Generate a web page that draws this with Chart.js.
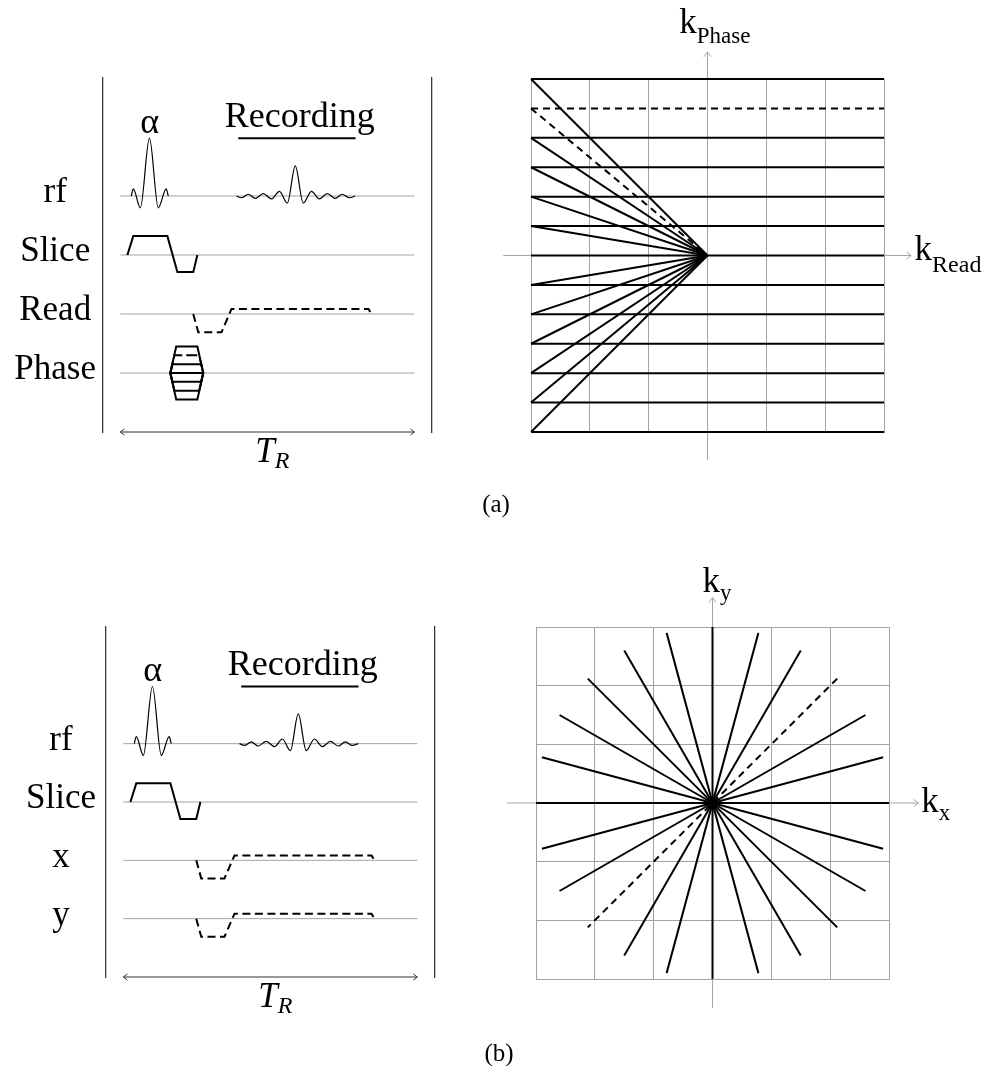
<!DOCTYPE html>
<html>
<head>
<meta charset="utf-8">
<script src="https://cdn.jsdelivr.net/npm/chart.js@4.4.1/dist/chart.umd.min.js"></script>
<style>
  body { margin: 0; background: #fff; }
  #wrap { position: relative; width: 986px; height: 1066px; overflow: hidden; }
  #wrap canvas { position: absolute; left: 0; top: 0; }
  .cap { position: absolute; left: 0; text-align: center; font: 25px "Liberation Serif", serif; line-height: 25px; }
</style>
</head>
<body>
<div id="wrap">
  <canvas id="seqA" width="986" height="1066"></canvas>
  <canvas id="kA" width="986" height="1066"></canvas>
  <canvas id="seqB" width="986" height="1066"></canvas>
  <canvas id="kB" width="986" height="1066"></canvas>
  <div class="cap" style="top:491px;width:992px">(a)</div>
  <div class="cap" style="top:1040px;width:998px">(b)</div>
</div>
<script>
const SERIF = '"Liberation Serif", "DejaVu Serif", serif';
const INK = '#000';
const GREY = '#a3a3a3';

// --- pulse sequence: time in ms, amplitude in units of the row spacing ---
const TR = [0, 10];
const rowsA = ['rf', 'Slice', 'Read', 'Phase'];
const rowsB = ['rf', 'Slice', 'x', 'y'];

const alphaT = [0.37, 0.44, 0.68, 0.99, 1.29, 1.56, 1.63];
const alphaA = [0, 0.12, -0.2, 0.98, -0.2, 0.12, 0];

const echoT = [3.95, 4.12, 4.35, 4.59, 4.86, 5.14, 5.41, 5.68, 5.95, 6.22, 6.50, 6.77, 7.04, 7.31, 7.55, 7.79, 7.99];
const echoA = [0, -0.03, 0.03, -0.04, 0.04, -0.05, 0.08, -0.12, 0.51, -0.12, 0.08, -0.05, 0.04, -0.04, 0.03, -0.03, 0];
const recordWin = [4.01, 8.0];

const sliceT = [0.24, 0.44, 1.6, 1.94, 2.48, 2.62];
const sliceA = [0, 0.32, 0.32, -0.29, -0.29, 0];

const readT = [2.48, 2.65, 3.44, 3.78, 8.44, 8.54];
const readA = [0, -0.31, -0.31, 0.085, 0.085, 0];

const phaseAmp = [0.45, 0.30, 0.15, 0, -0.15, -0.30, -0.45];
const phaseRamp = [0.2, 0.14, 0.07, 0, 0.07, 0.14, 0.2];
const phaseOn = [1.70, 2.82];

// --- k-space, in grid cells ---
const kRows = [3, 2.5, 2, 1.5, 1, 0.5, 0, -0.5, -1, -1.5, -2, -2.5, -3];
const kRowDashed = 2.5;
const spokeX = [0, 0.78, 1.5, 2.12, 2.6, 2.9, 3, 2.9, 2.6, 2.12, 1.5, 0.78];
const spokeY = [3, 2.9, 2.6, 2.12, 1.5, 0.78, 0, -0.78, -1.5, -2.12, -2.6, -2.9];
const spokeDashed = 3;

const pts = (ts, as, base = 0) => ts.map((t, i) => ({ x: t, y: base + as[i] }));
const seg = (x0, y0, x1, y1) => [{ x: x0, y: y0 }, { x: x1, y: y1 }];
const line = (data, extra = {}) => Object.assign(
  { data, borderColor: INK, borderWidth: 2, pointRadius: 0, fill: false, tension: 0, clip: false, order: 0 }, extra);
// grey guide lines sit behind the black marks
const guide = (data, extra = {}) => line(data, Object.assign({ borderColor: GREY, borderWidth: 1, order: 5 }, extra));

// text placed in data coordinates
const notes = items => ({
  id: 'notes',
  afterDatasetsDraw(chart) {
    const { ctx } = chart, sx = chart.scales.x, sy = chart.scales.y;
    ctx.save();
    ctx.fillStyle = INK;
    ctx.textBaseline = 'alphabetic';
    ctx.textAlign = 'left';
    items.forEach(n => {
      const st = n.italic ? 'italic ' : '';
      const big = `${st}${n.size}px ${SERIF}`, small = `${st}${n.subSize || 10}px ${SERIF}`;
      ctx.font = big;
      const w1 = ctx.measureText(n.text).width;
      let w2 = 0;
      if (n.sub) { ctx.font = small; w2 = ctx.measureText(n.sub).width; }
      let px = sx.getPixelForValue(n.x);
      const py = sy.getPixelForValue(n.y);
      if (n.align === 'center') px -= (w1 + w2) / 2;
      ctx.font = big;
      ctx.fillText(n.text, px, py);
      if (n.sub) { ctx.font = small; ctx.fillText(n.sub, px + w1, py + n.subDrop); }
    });
    ctx.restore();
  }
});

// open arrow heads on datasets that ask for them
const arrowPlugin = {
  id: 'arrows',
  afterDatasetsDraw(chart) {
    const ctx = chart.ctx;
    chart.data.datasets.forEach((ds, i) => {
      if (!ds.arrows) return;
      const p = chart.getDatasetMeta(i).data;
      const head = (tip, from) => {
        const a = Math.atan2(tip.y - from.y, tip.x - from.x), L = ds.arrowSize || 6, s = 0.65;
        ctx.beginPath();
        ctx.moveTo(tip.x - L * Math.cos(a - s), tip.y - L * Math.sin(a - s));
        ctx.lineTo(tip.x, tip.y);
        ctx.lineTo(tip.x - L * Math.cos(a + s), tip.y - L * Math.sin(a + s));
        ctx.stroke();
      };
      ctx.save();
      ctx.strokeStyle = ds.borderColor;
      ctx.lineWidth = ds.borderWidth;
      if (ds.arrows.includes('end')) head(p[p.length - 1], p[p.length - 2]);
      if (ds.arrows.includes('start')) head(p[0], p[1]);
      ctx.restore();
    });
  }
};

const seqNotes = [
  { x: 1.0, y: 4.07, text: 'α', size: 36, align: 'center' },
  { x: 6.1, y: 4.17, text: 'Recording', size: 36, align: 'center' },
  { x: 4.59, y: -1.51, text: 'T', sub: 'R', size: 35, subSize: 24, subDrop: 6, italic: true }
];

function seqDatasets(names) {
  const ds = names.map((n, i) => guide(seg(TR[0], 3 - i, TR[1], 3 - i)));
  ds.push(line(pts(alphaT, alphaA, 3), { borderWidth: 1.2, cubicInterpolationMode: 'monotone' }));
  ds.push(line(pts(echoT, echoA, 3), { borderWidth: 1.2, cubicInterpolationMode: 'monotone' }));
  ds.push(line(seg(recordWin[0], 3.98, recordWin[1], 3.98)));
  ds.push(line(pts(sliceT, sliceA, 2)));
  ds.push(line(seg(TR[0], -1, TR[1], -1), { borderColor: '#333', borderWidth: 1, arrows: ['start', 'end'], arrowSize: 5 }));
  return ds;
}

const readout = row => line(pts(readT, readA, row), { borderDash: [8, 4.5] });
const phaseStep = i => line([
  { x: phaseOn[0], y: 0 },
  { x: phaseOn[0] + phaseRamp[i], y: phaseAmp[i] },
  { x: phaseOn[1] - phaseRamp[i], y: phaseAmp[i] },
  { x: phaseOn[1], y: 0 }
], i === 1 ? { borderDash: [11, 4], order: 1 } : {});

function seqChart(id, names, grads, o) {
  new Chart(document.getElementById(id), {
    type: 'line',
    data: { datasets: [...seqDatasets(names), ...grads] },
    options: {
      responsive: false, animation: false, devicePixelRatio: 1, events: [],
      layout: { padding: o.pad, autoPadding: false },
      plugins: { legend: { display: false }, tooltip: { enabled: false } },
      scales: {
        x: { type: 'linear', display: false, min: -0.59, max: 10.6 },
        y: {
          type: 'linear', position: 'left', min: -1, max: 5,
          grid: { display: false, drawTicks: false },
          border: { color: '#3a3a3a', width: 1.3 },
          afterBuildTicks: s => { s.ticks = names.map((n, i) => ({ value: 3 - i })); },
          afterFit: s => { s.width = o.axisW; },
          ticks: {
            autoSkip: false, padding: o.labelPad, crossAlign: 'center', labelOffset: -3,
            color: INK, font: { family: SERIF, size: 35 },
            callback: v => names[3 - v]
          }
        },
        yR: {
          type: 'linear', position: 'right', min: -1, max: 5,
          grid: { display: false, drawTicks: false },
          border: { color: '#3a3a3a', width: 1.3 },
          ticks: { display: false },
          afterFit: s => { s.width = 0; }
        }
      }
    },
    plugins: [notes(seqNotes), arrowPlugin]
  });
}

const kScale = pos => ({
  type: 'linear', position: pos, min: -3, max: 3,
  ticks: { display: false, stepSize: 1 },
  grid: { color: GREY, lineWidth: 1, drawTicks: false },
  border: { color: GREY, width: 1 },
  afterFit: s => { if (s.isHorizontal()) s.height = 0; else s.width = 0; }
});

function kChart(id, datasets, pad, items) {
  new Chart(document.getElementById(id), {
    type: 'line',
    data: { datasets },
    options: {
      responsive: false, animation: false, devicePixelRatio: 1, events: [],
      layout: { padding: pad, autoPadding: false },
      plugins: { legend: { display: false }, tooltip: { enabled: false } },
      scales: { x: kScale('bottom'), y: kScale('left') }
    },
    plugins: [notes(items), arrowPlugin]
  });
}

const kAxes = (lo, hi) => [
  guide(seg(lo, 0, hi, 0), { arrows: ['end'] }),
  guide(seg(0, lo, 0, hi), { arrows: ['end'] })
];

// (a) Cartesian
seqChart('seqA', rowsA, [readout(1), ...phaseAmp.map((a, i) => phaseStep(i))],
  { pad: { left: 0, right: 554, top: 78, bottom: 634 }, axisW: 103, labelPad: 7 });

kChart('kA', [
  ...kAxes(-3.47, 3.46),
  ...kRows.map(ky => line(seg(-3, ky, 3, ky), ky === kRowDashed ? { borderDash: [7, 5] } : {})),
  ...kRows.filter(ky => ky !== 0).map(ky => line(seg(-3, ky, 0, 0), ky === kRowDashed ? { borderDash: [7, 5] } : {}))
], { left: 531, right: 102, top: 79, bottom: 634 }, [
  { x: -0.48, y: 3.79, text: 'k', sub: 'Phase', size: 35, subSize: 23, subDrop: 10 },
  { x: 3.52, y: -0.07, text: 'k', sub: 'Read', size: 35, subSize: 24, subDrop: 12 }
]);

// (b) radial
seqChart('seqB', rowsB, [readout(1), readout(0)],
  { pad: { left: 0, right: 551, top: 627, bottom: 89 }, axisW: 106, labelPad: 10 });

kChart('kB', [
  ...kAxes(-3.49, 3.5),
  ...spokeX.map((sx, i) => line(seg(sx, spokeY[i], -sx, -spokeY[i]), i === spokeDashed ? { borderDash: [7, 5] } : {}))
], { left: 536, right: 97, top: 627, bottom: 87 }, [
  { x: -0.17, y: 3.59, text: 'k', sub: 'y', size: 35, subSize: 23, subDrop: 8 },
  { x: 3.55, y: -0.15, text: 'k', sub: 'x', size: 35, subSize: 23, subDrop: 8 }
]);
</script>
</body>
</html>
